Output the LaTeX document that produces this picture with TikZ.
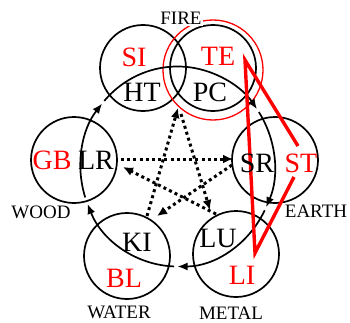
\documentclass[tikz,border=0pt]{standalone}
\usepackage{fontspec}
\setmainfont{Liberation Serif}
\newfontfamily\lblfont{Liberation Serif}
\usetikzlibrary{arrows.meta,calc}
\begin{document}
\begin{tikzpicture}[x=1pt,y=1pt,
  organ/.style={circle,draw,line width=1.7pt,minimum size=86pt,inner sep=0pt},
  redring/.style={circle,draw=red,line width=1.3pt,minimum size=100pt,inner sep=0pt},
  biglab/.style={font=\lblfont\fontsize{28}{30}\selectfont,inner sep=0pt},
  redlab/.style={biglab,text=red},
  elem/.style={font=\lblfont\fontsize{19}{20}\selectfont,inner sep=1.5pt,fill=white},
  cyc/.style={line width=1.7pt,-{Latex[length=10pt,width=8pt]}},
  ke/.style={line width=3pt,dash pattern=on 3pt off 3.2pt,-{Latex[length=10pt,width=9pt]}},
  tcm/.style={red,line width=3.4pt}]
\useasboundingbox (0,0) rectangle (350,322);
% organ circles
\node[organ] (fireA) at (143,254) {};
\node[organ] (fireB) at (213,254) {};
\node[redring] (tering) at (213,252) {};
\node[organ] (earth) at (275,162) {};
\node[organ] (metal) at (236,68) {};
\node[organ] (water) at (127,66) {};
\node[organ] (wood) at (74,162) {};
% generating cycle
\coordinate (bc) at (177.5,155.5);
\draw[cyc] ($(bc)+(198:97 and 100)$) arc[start angle=198,end angle=141,x radius=97,y radius=100];
\draw[cyc] ($(bc)+(139:97 and 100)$) arc[start angle=139,end angle=35,x radius=97,y radius=100];
\draw[cyc] ($(bc)+(33:97 and 100)$) arc[start angle=33,end angle=-24,x radius=97,y radius=100];
\draw[cyc] ($(bc)+(-26:97 and 100)$) arc[start angle=-26,end angle=-90,x radius=97,y radius=100];
\draw[cyc] ($(bc)+(-92:97 and 100)$) arc[start angle=-92,end angle=-158,x radius=97,y radius=100];
% controlling cycle
\coordinate (kWoodA) at (121,163);
\coordinate (kEarthA) at (233,163);
\coordinate (kEarthB) at (232,157);
\coordinate (kWaterA) at (157,106);
\coordinate (kWaterB) at (147,106);
\coordinate (kFireA) at (178,214);
\coordinate (kFireB) at (181,208);
\coordinate (kMetalA) at (210,112);
\coordinate (kMetalB) at (216,108);
\coordinate (kWoodB) at (123,155);
\draw[ke] (kWoodA) -- (kEarthA);
\draw[ke] (kEarthB) -- (kWaterA);
\draw[ke] (kWaterB) -- (kFireA);
\draw[ke] (kFireB) -- (kMetalA);
\draw[ke] (kMetalB) -- (kWoodB);
% red path
\coordinate (rA) at (298,176);
\coordinate (rB) at (245,262);
\coordinate (rC) at (255,69);
\coordinate (rD) at (294,145);
\draw[tcm] (rA) -- (rB) -- (rC) -- (rD);
% organ labels
\node[redlab] (si) at (134,265) {SI};
\node[biglab] (ht) at (142,230) {HT};
\node[redlab] (te) at (218,266) {TE};
\node[biglab] (pc) at (210,230) {PC};
\node[redlab] (gb) at (52,162) {GB};
\node[biglab] (lr) at (96,162) {LR};
\node[biglab] (sr) at (257,159) {SR};
\node[redlab] (st) at (301,159) {ST};
\node[biglab] (ki) at (137,80) {KI};
\node[redlab] (bl) at (124,44) {BL};
\node[biglab] (lu) at (218,84) {LU};
\node[redlab] (li) at (242,47) {LI};
% element labels
\node[elem] (fire) at (181,304) {FIRE};
\node[elem] (woodl) at (41,110) {WOOD};
\node[elem] (earthl) at (316,111) {EARTH};
\node[elem] (waterl) at (119,10) {WATER};
\node[elem] (metall) at (231,9) {METAL};
\end{tikzpicture}
\end{document}
